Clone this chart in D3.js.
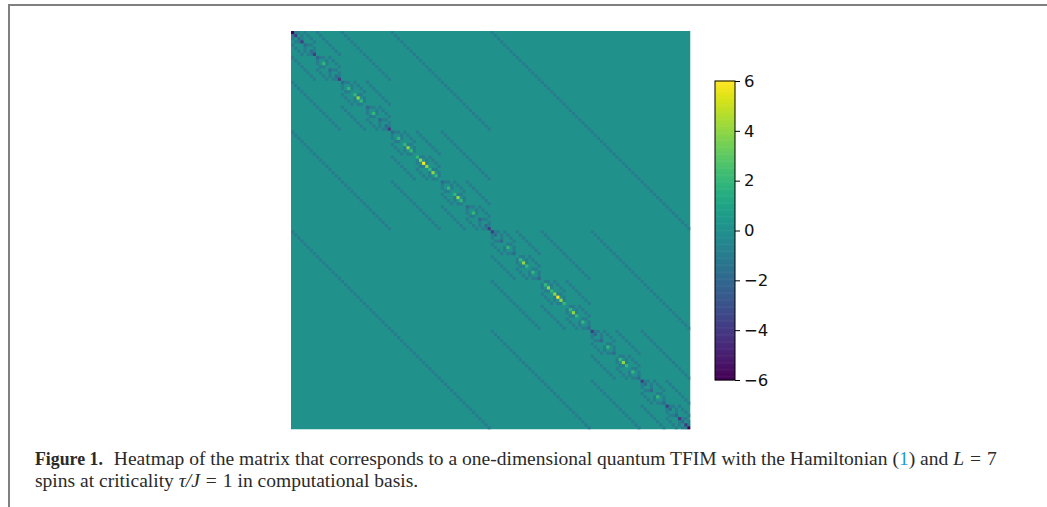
<!DOCTYPE html>
<html>
<head>
<script src="https://d3js.org/d3.v7.min.js"></script>
<style>
body { margin: 0; background: white; }
svg { display: block; }
.cap { font-family: "Liberation Serif"; font-size: 19.55px; fill: #2a2a2a; }
</style>
</head>
<body>
<div id="chart"></div>
<script>
/* Diagonal of the matrix, first half, read along the heatmap from top left */
var diagFirstHalf = [
    -6,-4,-2,-4,-2,0,-2,-4,-2,0,2,0,-2,0,-2,-4,
    -2,0,2,0,2,4,2,0,-2,0,2,0,-2,0,-2,-4,
    -2,0,2,0,2,4,2,0,2,4,6,4,2,4,2,0,
    -2,0,2,0,2,4,2,0,-2,0,2,0,-2,0,-2,-4
];
/* Second half, down to the bottom right corner */
var diagSecondHalf = [
    -4,-2,0,-2,0,2,0,-2,0,2,4,2,0,2,0,-2,
    0,2,4,2,4,6,4,2,0,2,4,2,0,2,0,-2,
    -4,-2,0,-2,0,2,0,-2,0,2,4,2,0,2,0,-2,
    -4,-2,0,-2,0,2,0,-2,-4,-2,0,-2,-4,-2,-4,-6
];
var diagonal = diagFirstHalf.concat(diagSecondHalf);
/* Stripe distances off the diagonal (spin flips) and their value */
var flipMasks = [1, 2, 4, 8, 16, 32, 64];
var flipValue = -1;
var colorbarTicks = [-6, -4, -2, 0, 2, 4, 6];

var width = 1047, height = 507;
var svg = d3.select("#chart").append("svg")
    .attr("width", width)
    .attr("height", height);

/* Page frame */
svg.append("path")
    .attr("d", "M9,507V5H1047")
    .attr("fill", "none")
    .attr("stroke", "#808080")
    .attr("stroke-width", 2);

var indices = d3.range(diagonal.length);
var x = d3.scaleBand().domain(indices).range([291, 690.5]);
var y = d3.scaleBand().domain(indices).range([31, 429.5]);
var color = d3.scaleSequential(d3.interpolateViridis).domain([-6, 6]);

/* Heatmap: zero background and the non zero cells on top */
var cells = [];
indices.forEach(function(i) {
    flipMasks.forEach(function(m) {
        cells.push({row: i, col: i ^ m, value: flipValue});
    });
});
indices.forEach(function(i) {
    if (diagonal[i] !== 0) cells.push({row: i, col: i, value: diagonal[i]});
});

svg.append("clipPath").attr("id", "hm")
    .append("rect")
    .attr("x", 291).attr("y", 31)
    .attr("width", 399.5).attr("height", 398.5);

var heat = svg.append("g").attr("clip-path", "url(#hm)");
heat.append("rect")
    .attr("x", 291).attr("y", 31)
    .attr("width", 399.5).attr("height", 398.5)
    .attr("fill", color(0));

heat.append("g")
    .style("filter", "blur(0.7px)")
    .selectAll("rect")
    .data(cells)
    .join("rect")
    .attr("x", d => x(d.col))
    .attr("y", d => y(d.row))
    .attr("width", x.bandwidth())
    .attr("height", y.bandwidth())
    .attr("fill", d => color(d.value));

/* Colorbar */
var cbScale = d3.scaleLinear().domain([-6, 6]).range([380, 81]);
var cb = svg.append("g").attr("class", "cb");
cb.selectAll("rect.s")
    .data(d3.range(-6, 6, 12 / 256))
    .join("rect")
    .attr("class", "s")
    .attr("x", 715)
    .attr("width", 20)
    .attr("y", d => cbScale(d + 12 / 256) - 0.3)
    .attr("height", 299 / 256 + 0.6)
    .attr("fill", d => color(d));
cb.append("rect")
    .attr("x", 715).attr("y", 81)
    .attr("width", 20).attr("height", 299)
    .attr("fill", "none")
    .attr("stroke", "#000")
    .attr("stroke-width", 1);
var axis = cb.append("g")
    .attr("transform", "translate(735,0)")
    .call(d3.axisRight(cbScale).tickValues(colorbarTicks).tickSize(5).tickPadding(4));
axis.select(".domain").remove();
axis.selectAll("text").style("font-family", "DejaVu Sans").style("font-size", "16.5px").attr("fill", "#111");

/* Caption */
var line1 = svg.append("text").attr("class", "cap").attr("x", 35).attr("y", 465);
line1.append("tspan").attr("font-weight", "bold").attr("font-size", "17.8px").text("Figure 1.");
line1.append("tspan").attr("dx", 11).text("Heatmap of the matrix that corresponds to a one-dimensional quantum TFIM with the Hamiltonian (");
line1.append("tspan").attr("fill", "#1a9bd7").text("1");
line1.append("tspan").text(") and ");
line1.append("tspan").attr("font-style", "italic").text("L");
line1.append("tspan").attr("dx", 6).text("=");
line1.append("tspan").attr("dx", 6).text("7");

var line2 = svg.append("text").attr("class", "cap").attr("x", 35).attr("y", 487);
line2.append("tspan").text("spins at criticality ");
line2.append("tspan").attr("font-style", "italic").text("τ/J");
line2.append("tspan").attr("dx", 6).text("=");
line2.append("tspan").attr("dx", 6).text("1 in computational basis.");
</script>
</body>
</html>
